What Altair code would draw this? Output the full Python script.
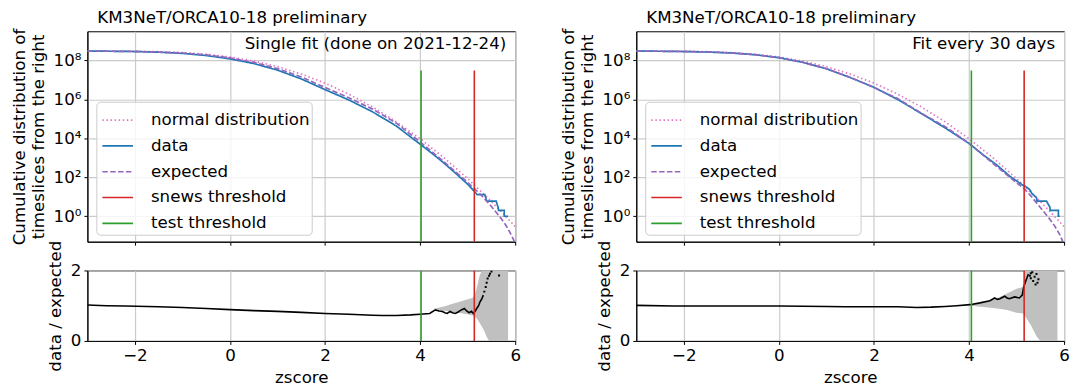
import altair as alt
import pandas as pd

FONT = "DejaVu Sans"
FS = 16.8

# ---------------- shared values ----------------
SERIES = ["normal distribution", "data", "expected", "snews threshold", "test threshold"]
COLORS = ["#e377c2", "#1f77b4", "#9467bd", "#d62728", "#2ca02c"]
DASHES = [[1.5, 2.6], [1, 0], [5.5, 2.4], [1, 0], [1, 0]]

X_TICKS = [-2, 0, 2, 4, 6]
Y_TICKS = [1, 1e2, 1e4, 1e6, 1e8]
RATIO_TICKS = [0, 1, 2]
X_DOMAIN = [-3, 6]
Y_DOMAIN = [0.0494, 3.13e9]
RATIO_DOMAIN = [0, 2]
RULE_TOP = 3.0e7

TITLE = "KM3NeT/ORCA10-18 preliminary"
NOTES = ["Single fit (done on 2021-12-24)", "Fit every 30 days"]

normal_z = [-3.0, -2.5, -2.0, -1.5, -1.0, -0.5, 0.0, 0.5, 1.0, 1.5, 2.0, 2.5, 3.0, 3.5, 4.0, 4.5, 5.0, 5.5, 6.0]
normal_v = [3.0e8, 2.98e8, 2.93e8, 2.80e8, 2.52e8, 2.07e8, 1.5e8, 9.3e7, 4.8e7, 2.0e7, 6.8e6, 1.86e6,
            4.05e5, 7.0e4, 9.5e3, 1.02e3, 86, 5.7, 0.3]

# ---------------- left panel: single fit ----------------
left_data_z = [-3.0, -2.5, -2.0, -1.5, -1.0, -0.5, 0.0, 0.5, 1.0, 1.5, 2.0, 2.5, 3.0, 3.5, 4.0, 4.25, 4.5,
               4.75, 5.0, 5.14, 5.2, 5.36, 5.38, 5.4, 5.6, 5.62, 5.64, 5.65, 5.77, 5.77, 5.85]
left_data_v = [3.02e8, 2.95e8, 2.85e8, 2.63e8, 2.29e8, 1.78e8, 1.2e8, 6.9e7, 3.16e7, 1.12e7, 3.16e6, 9.3e5,
               2.29e5, 4.27e4, 5.0e3, 1.7e3, 537, 158, 44, 19, 13, 13, 9, 6, 6, 4, 3, 2, 2, 1, 1]
left_exp_z = [-3.0, -2.5, -2.0, -1.5, -1.0, -0.5, 0.0, 0.5, 1.0, 1.5, 2.0, 2.5, 3.0, 3.5, 4.0, 4.5, 5.0,
              5.3, 5.5, 5.7, 5.8, 5.9, 5.98]
left_exp_v = [2.95e8, 2.95e8, 2.88e8, 2.69e8, 2.40e8, 1.91e8, 1.35e8, 7.94e7, 3.8e7, 1.41e7, 4.07e6, 1.2e6,
              3.16e5, 6.0e4, 6.6e3, 631, 55, 11.2, 3.16, 0.79, 0.355, 0.132, 0.0525]
left_ratio_z = [-3.0, -2.6, -2.2, -1.5, -1.0, -0.5, 0.0, 0.5, 1.0, 1.5, 2.0, 2.5, 3.0, 3.2, 3.5, 3.8, 4.0,
                4.2, 4.32, 4.4, 4.46, 4.52, 4.57, 4.63, 4.68, 4.74, 4.8, 4.84, 4.93, 4.98, 5.03, 5.08,
                5.12, 5.16, 5.19, 5.23, 5.26, 5.3, 5.33]
left_ratio_v = [1.02, 1.0, 0.99, 0.97, 0.95, 0.92, 0.89, 0.86, 0.84, 0.81, 0.78, 0.76, 0.73, 0.72, 0.72,
                0.74, 0.76, 0.78, 0.88, 0.85, 0.84, 0.80, 0.78, 0.84, 0.80, 0.78, 0.82, 0.86, 0.92, 0.85,
                0.80, 0.84, 0.78, 0.85, 0.92, 1.0, 1.11, 1.2, 1.3]
left_dots_z = [5.35, 5.38, 5.4, 5.42, 5.45, 5.47, 5.5, 5.66]
left_dots_v = [1.4, 1.53, 1.65, 1.77, 1.85, 1.91, 1.97, 1.86]
left_band_z = [4.3, 4.4, 4.5, 4.6, 4.7, 4.8, 4.9, 5.0, 5.1, 5.15, 5.2, 5.25, 5.3, 5.35, 5.4, 5.45, 5.5, 5.85]
left_band_lo = [0.9, 0.88, 0.86, 0.84, 0.82, 0.8, 0.78, 0.76, 0.72, 0.7, 0.62, 0.52, 0.4, 0.28, 0.12, 0.0, 0.0, 0.0]
left_band_hi = [0.92, 0.95, 0.98, 1.02, 1.06, 1.1, 1.14, 1.18, 1.22, 1.3, 1.55, 1.85, 2.0, 2.0, 2.0, 2.0, 2.0, 2.0]
left_test, left_snews = 4.02, 5.14

# ---------------- right panel: fit every 30 days ----------------
right_data_z = [-3.0, -2.5, -2.0, -1.5, -1.0, -0.5, 0.0, 0.5, 1.0, 1.5, 2.0, 2.5, 3.0, 3.5, 4.0, 4.3, 4.58,
                4.86, 5.16, 5.18, 5.28, 5.32, 5.42, 5.43, 5.63, 5.67, 5.7, 5.71, 5.88, 5.88, 5.91]
right_data_v = [3.02e8, 2.95e8, 2.85e8, 2.69e8, 2.40e8, 1.95e8, 1.38e8, 7.94e7, 3.72e7, 1.32e7, 4.17e6,
                9.8e5, 1.86e5, 3.39e4, 5.5e3, 1.41e3, 437, 112, 35, 35, 23, 15, 9, 6, 6, 4, 3, 2, 2, 1, 1]
right_exp_z = [-3.0, -2.5, -2.0, -1.5, -1.0, -0.5, 0.0, 0.5, 1.0, 1.5, 2.0, 2.5, 3.0, 3.5, 4.0, 4.5, 5.0,
               5.16, 5.3, 5.5, 5.7, 5.8, 5.9, 5.97]
right_exp_v = [2.95e8, 2.95e8, 2.88e8, 2.72e8, 2.43e8, 1.97e8, 1.40e8, 8.0e7, 3.8e7, 1.35e7, 4.07e6, 1.1e6,
               1.91e5, 3.98e4, 5.5e3, 525, 52, 26, 11.2, 2.8, 0.71, 0.32, 0.126, 0.0525]
right_ratio_z = [-3.0, -2.2, -1.0, 0.0, 1.0, 1.4, 2.0, 2.5, 2.9, 3.2, 3.5, 3.74, 4.02, 4.23, 4.44, 4.54,
                 4.6, 4.65, 4.75, 4.8, 4.85, 4.96, 5.06, 5.12, 5.15, 5.2, 5.25]
right_ratio_v = [1.01, 0.99, 0.99, 0.99, 0.98, 0.97, 0.97, 0.97, 0.95, 0.96, 0.98, 1.0, 1.03, 1.08, 1.14,
                 1.22, 1.18, 1.2, 1.27, 1.22, 1.2, 1.25, 1.22, 1.3, 1.53, 1.72, 1.9]
right_dots_z = [5.28, 5.3, 5.3, 5.33, 5.35, 5.38, 5.4, 5.42, 5.44, 5.46]
right_dots_v = [1.85, 1.78, 1.92, 1.95, 1.7, 1.82, 1.6, 1.9, 1.65, 1.75]
right_band_z = [4.05, 4.2, 4.4, 4.6, 4.8, 5.0, 5.14, 5.18, 5.25, 5.3, 5.35, 5.42, 5.5, 5.86]
right_band_lo = [1.0, 0.98, 0.95, 0.92, 0.88, 0.8, 0.78, 0.7, 0.55, 0.45, 0.32, 0.13, 0.0, 0.0]
right_band_hi = [1.04, 1.07, 1.12, 1.22, 1.35, 1.48, 1.53, 2.0, 2.0, 2.0, 2.0, 2.0, 2.0, 2.0]
right_test, right_snews = 4.05, 5.16

W, H_TOP, H_RATIO = 431, 212, 71

label_expr = ("'10' + (datum.value < 10 ? '⁰' : datum.value < 1000 ? '²' : datum.value < 1e5 ? '⁴' : "
              "datum.value < 1e7 ? '⁶' : '⁸')")


def top_panel(dz, dv, ez, ev, test_z, snews_z, note):
    rows = []
    for s, zs, vs in [("normal distribution", normal_z, normal_v), ("data", dz, dv), ("expected", ez, ev)]:
        for i, (z, v) in enumerate(zip(zs, vs)):
            rows.append({"series": s, "z": z, "v": v, "i": i})
    curves = pd.DataFrame(rows)
    thr = pd.DataFrame({"series": ["snews threshold", "test threshold"], "z": [snews_z, test_z],
                        "lo": [Y_DOMAIN[0]] * 2, "hi": [RULE_TOP] * 2})
    xs = alt.Scale(domain=X_DOMAIN, nice=False, zero=False)
    ys = alt.Scale(type="log", domain=Y_DOMAIN, nice=False)
    leg = alt.Legend(title=None, orient="none", legendX=9, legendY=71, fillColor="rgba(255,255,255,0.8)",
                     strokeColor="#cccccc", cornerRadius=4, padding=2, labelFontSize=FS, labelFont=FONT,
                     labelColor="black", symbolType="stroke", symbolSize=950, symbolStrokeWidth=1.7,
                     symbolOffset=3, rowPadding=0, labelOffset=17, labelLimit=400)
    color = alt.Color("series:N", scale=alt.Scale(domain=SERIES, range=COLORS), legend=leg)
    dash = alt.StrokeDash("series:N", scale=alt.Scale(domain=SERIES, range=DASHES), legend=leg)
    xax = alt.Axis(values=X_TICKS, labels=False, title=None, grid=True)
    yax = alt.Axis(values=Y_TICKS, labelExpr=label_expr,
                   title=["Cumulative distribution of", "timeslices from the right"], grid=True)
    lines = alt.Chart(curves).mark_line(strokeWidth=1.7, clip=True).encode(
        x=alt.X("z:Q", scale=xs, axis=xax),
        y=alt.Y("v:Q", scale=ys, axis=yax),
        color=color, strokeDash=dash, order="i:Q")
    rules = alt.Chart(thr).mark_rule(strokeWidth=1.6, clip=True).encode(
        x="z:Q", y="lo:Q", y2="hi:Q", color=color, strokeDash=dash)
    txt = alt.Chart(pd.DataFrame({"t": [note]})).mark_text(
        align="right", baseline="middle", fontSize=FS, font=FONT, color="black").encode(
        x=alt.value(W - 9), y=alt.value(13), text="t:N")
    return alt.layer(lines, rules, txt).properties(
        width=W, height=H_TOP,
        title=alt.TitleParams(TITLE, anchor="start", frame="group", fontSize=FS, font=FONT,
                              fontWeight="normal", color="black", dx=10, offset=1))


def ratio_panel(rz, rv, tz, tv, bz, blo, bhi, test_z, snews_z):
    xs = alt.Scale(domain=X_DOMAIN, nice=False, zero=False)
    ys = alt.Scale(domain=RATIO_DOMAIN, nice=False, zero=False)
    xax = alt.Axis(values=X_TICKS, format="d", title="zscore", grid=True)
    yax = alt.Axis(values=RATIO_TICKS, title="data / expected", grid=True)
    band = alt.Chart(pd.DataFrame({"z": bz, "lo": blo, "hi": bhi})).mark_area(
        color="#c0c0c0", clip=True).encode(
        x=alt.X("z:Q", scale=xs, axis=xax), y=alt.Y("lo:Q", scale=ys, axis=yax), y2="hi:Q")
    line = alt.Chart(pd.DataFrame({"z": rz, "r": rv, "i": list(range(len(rz)))})).mark_line(
        color="black", strokeWidth=1.6, clip=True).encode(x="z:Q", y="r:Q", order="i:Q")
    dots = alt.Chart(pd.DataFrame({"z": tz, "r": tv})).mark_square(
        color="black", size=4, opacity=1, clip=True).encode(x="z:Q", y="r:Q")
    thr = pd.DataFrame({"series": ["snews threshold", "test threshold"], "z": [snews_z, test_z],
                        "lo": [RATIO_DOMAIN[0]] * 2, "hi": [RATIO_DOMAIN[1]] * 2})
    rules = alt.Chart(thr).mark_rule(strokeWidth=1.6, clip=True).encode(
        x="z:Q", y="lo:Q", y2="hi:Q",
        color=alt.Color("series:N", scale=alt.Scale(domain=SERIES, range=COLORS), legend=None))
    return alt.layer(band, line, dots, rules).properties(width=W, height=H_RATIO)


top_left = top_panel(left_data_z, left_data_v, left_exp_z, left_exp_v, left_test, left_snews, NOTES[0])
top_right = top_panel(right_data_z, right_data_v, right_exp_z, right_exp_v, right_test, right_snews, NOTES[1])
ratio_left = ratio_panel(left_ratio_z, left_ratio_v, left_dots_z, left_dots_v, left_band_z, left_band_lo,
                         left_band_hi, left_test, left_snews)
ratio_right = ratio_panel(right_ratio_z, right_ratio_v, right_dots_z, right_dots_v, right_band_z,
                          right_band_lo, right_band_hi, right_test, right_snews)

chart = alt.concat(top_left, top_right, ratio_left, ratio_right, columns=2,
                   spacing={"row": 29, "column": 122}, bounds="flush").resolve_scale(
    color="independent", strokeDash="independent").resolve_legend(
    color="independent", strokeDash="independent").properties(
    padding={"left": 3, "top": 0, "right": 5, "bottom": 5}
).configure(font=FONT).configure_view(stroke="black", strokeWidth=1).configure_axis(
    labelFont=FONT, titleFont=FONT, labelFontSize=FS, titleFontSize=FS, titleFontWeight="normal",
    labelColor="black", titleColor="black", domainColor="black", tickColor="black", domainWidth=1,
    tickWidth=1, tickSize=3.5, labelPadding=3, gridColor="#cbcbcb", gridWidth=1.2, titlePadding=6,
    labelFlush=False)

chart.save("out.html", embed_options={"renderer": "svg", "actions": False})
